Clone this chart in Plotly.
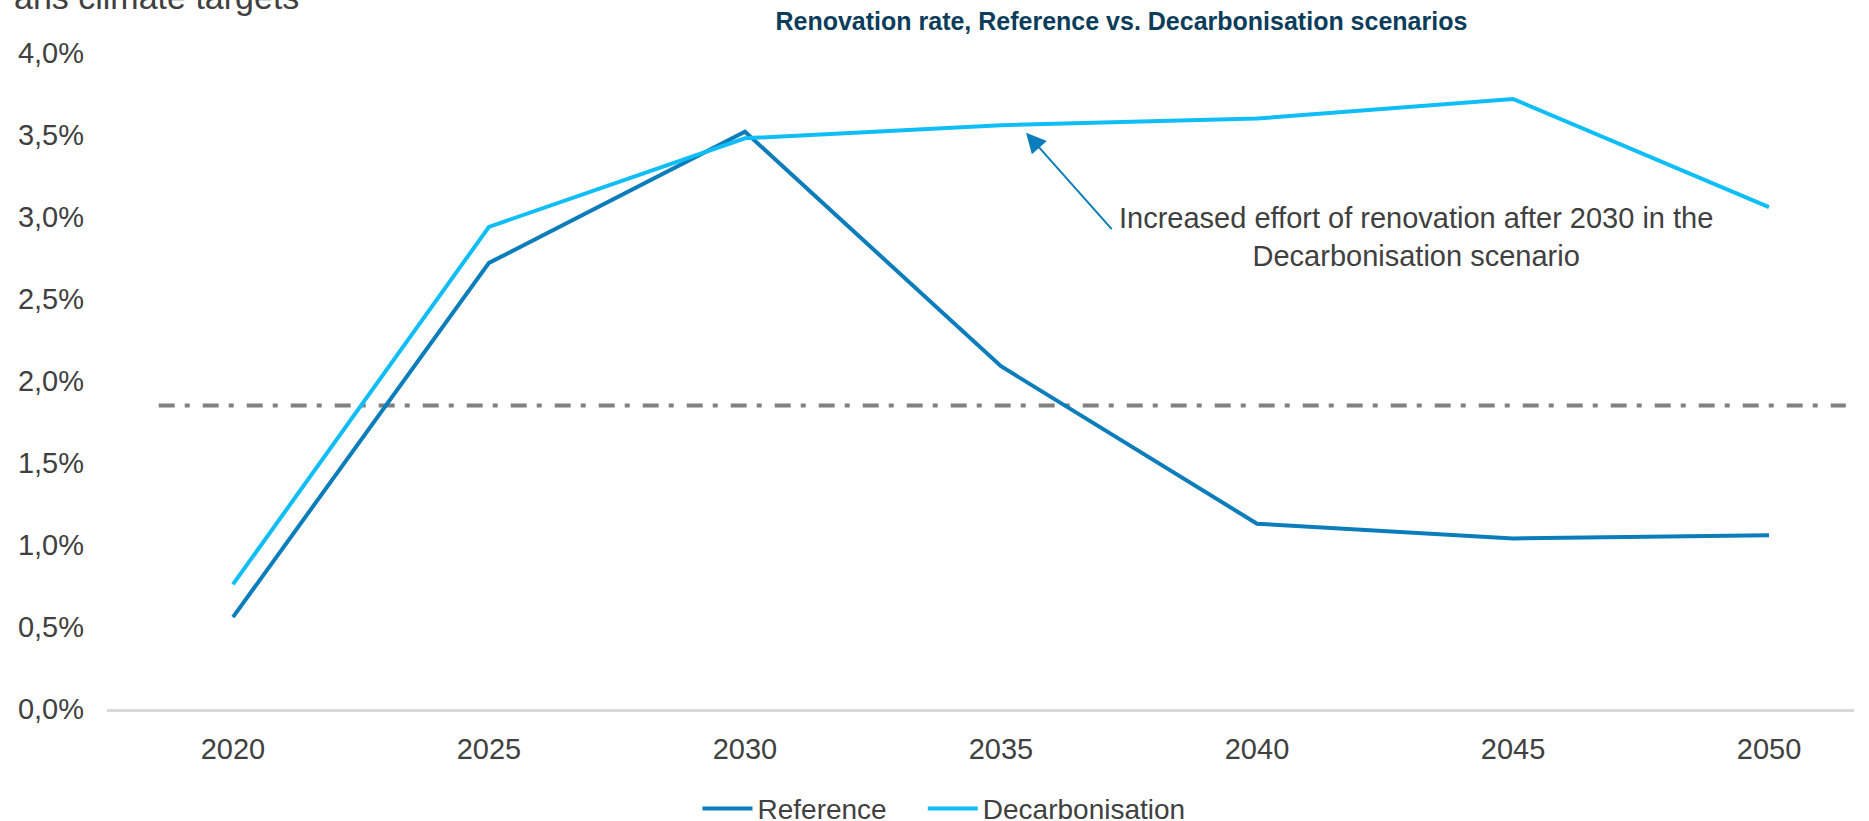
import plotly.graph_objects as go

years = [2020, 2025, 2030, 2035, 2040, 2045, 2050]
reference = [0.56, 2.72, 3.52, 2.09, 1.13, 1.04, 1.06]
decarbonisation = [0.76, 2.94, 3.48, 3.56, 3.60, 3.72, 3.06]
threshold = 1.85
threshold_x = [2018.55, 2051.5]
y_ticks = [0, 0.5, 1.0, 1.5, 2.0, 2.5, 3.0, 3.5, 4.0]
y_tick_text = [f"{v:.1f}%".replace(".", ",") for v in y_ticks]

REF_COLOR = "#0b7dbb"
DEC_COLOR = "#0fbdf7"
TEXT = "#404040"
FONT = "Liberation Sans, Arial, sans-serif"
FS = 29

fig = go.Figure()
fig.add_trace(go.Scatter(
    x=threshold_x, y=[threshold, threshold], mode="lines",
    line=dict(color="#808080", width=4, dash="16px,10px,5px,13px"),
    showlegend=False, hoverinfo="skip"))
fig.add_trace(go.Scatter(
    x=years, y=reference, mode="lines", name="Reference" + "&nbsp;" * 4,
    line=dict(color=REF_COLOR, width=4)))
fig.add_trace(go.Scatter(
    x=years, y=decarbonisation, mode="lines", name="Decarbonisation",
    line=dict(color=DEC_COLOR, width=4)))

fig.update_layout(
    width=1869, height=821,
    margin=dict(l=107, r=15, t=53, b=112, autoexpand=False),
    paper_bgcolor="white", plot_bgcolor="white",
    font=dict(family=FONT, size=FS, color=TEXT),
    separators=",.",
    title=dict(text="<b>Renovation rate, Reference vs. Decarbonisation scenarios</b>",
               x=0.6, xanchor="center", y=0.9744, yanchor="middle",
               font=dict(family=FONT, size=25, color="#0b3d5b")),
    xaxis=dict(range=[2017.54, 2051.66], tickvals=years, ticktext=[str(y) for y in years],
               showgrid=False, zeroline=False, showline=True, linecolor="#d9d9d9", linewidth=3,
               ticks="", ticklabelstandoff=12, tickfont=dict(size=FS, color=TEXT)),
    yaxis=dict(range=[0, 4], tickvals=y_ticks, ticktext=y_tick_text,
               showgrid=False, zeroline=False, showline=False, ticks="",
               ticklabelstandoff=22, tickfont=dict(size=FS, color=TEXT)),
    legend=dict(orientation="h", x=0.338, xanchor="left", y=-0.114, yanchor="top",
                font=dict(size=28, color=TEXT), itemwidth=50, tracegroupgap=0),
    showlegend=True,
)

fig.add_annotation(
    x=2035.49, y=3.514, xref="x", yref="y", text="", showarrow=True,
    ax=87, ay=98, arrowhead=2, arrowsize=2.0, arrowwidth=2, arrowcolor=REF_COLOR,
    standoff=0, startstandoff=0)
fig.add_annotation(
    x=2043.1, y=2.88, xref="x", yref="y", xanchor="center", yanchor="middle",
    text="Increased effort of renovation after 2030 in the<br>Decarbonisation scenario",
    showarrow=False, align="center", font=dict(size=FS, color=TEXT))
fig.add_annotation(
    x=-0.061, y=1.0, xref="paper", yref="paper", xanchor="left", yanchor="bottom",
    yshift=35, xshift=12, text="ans climate targets", showarrow=False,
    font=dict(size=34, color=TEXT))

fig.write_html("out.html", post_script="document.body.style.margin='0';",
               config={"displayModeBar": False})
